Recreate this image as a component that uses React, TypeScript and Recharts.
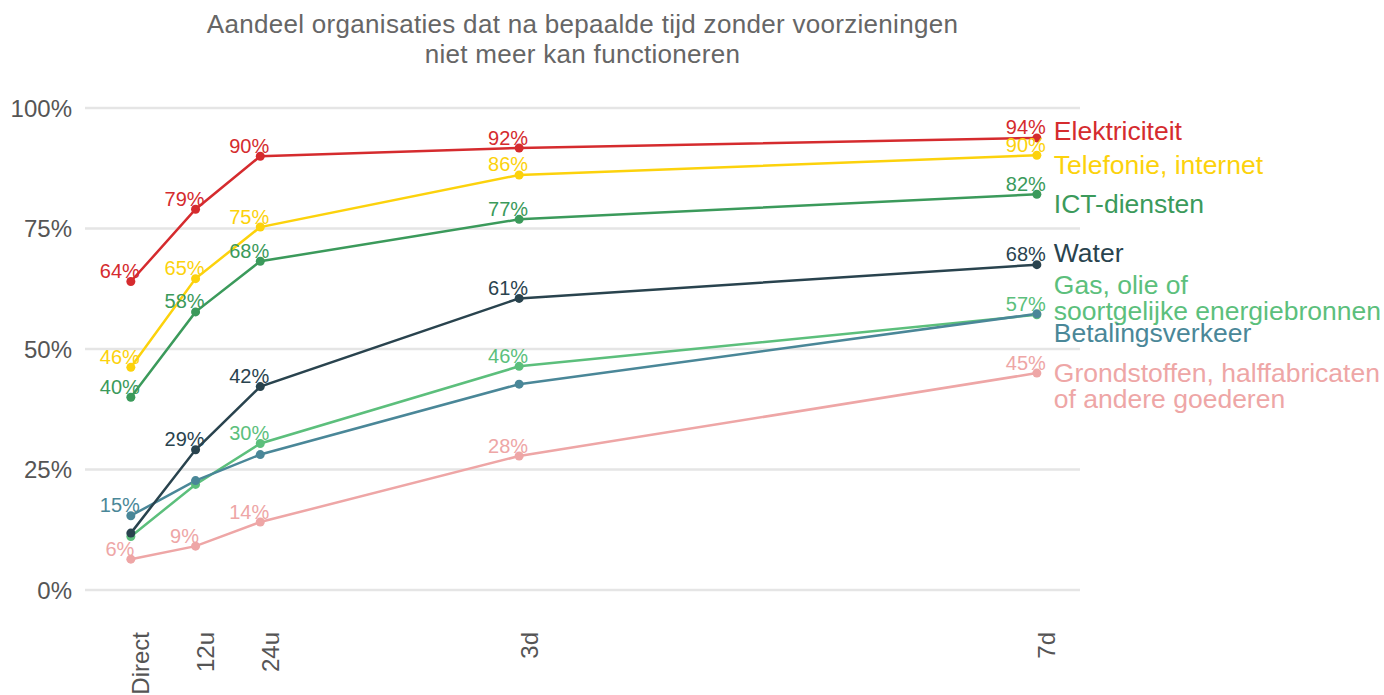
import { CartesianGrid, LabelList, Line, LineChart, XAxis, YAxis } from "recharts";

// hours after the outage; labels as used on the axis
const hours = [0, 12, 24, 72, 168];
const tickLabels = ["Direct", "12u", "24u", "3d", "7d"];
const yTicks = [0, 25, 50, 75, 100];

const elektriciteit = [64, 79, 90, 91.7, 93.8];
const telefonie = [46.2, 64.6, 75.3, 86.1, 90.2];
const ictDiensten = [40, 57.7, 68.2, 76.9, 82.1];
const water = [11.8, 29.1, 42.2, 60.5, 67.5];
const gas = [11.1, 21.9, 30.4, 46.4, 57.1];
const betaling = [15.4, 22.7, 28.1, 42.7, 57.3];
const grondstoffen = [6.4, 9.1, 14.1, 27.8, 45];

// which points carry a value label
const showElektriciteit = [true, true, true, true, true];
const showTelefonie = [true, true, true, true, true];
const showIct = [true, true, true, true, true];
const showWater = [false, true, true, true, true];
const showGas = [false, false, true, true, true];
const showBetaling = [true, false, false, false, false];
const showGrondstoffen = [true, true, true, true, true];

const series = [
  { key: "grondstoffen", name: ["Grondstoffen, halffabricaten", "of andere goederen"], values: grondstoffen, show: showGrondstoffen, color: "#eea6a6", nameDy: 13 },
  { key: "gas", name: ["Gas, olie of", "soortgelijke energiebronnen"], values: gas, show: showGas, color: "#5cbf7c", nameDy: -17 },
  { key: "betaling", name: ["Betalingsverkeer"], values: betaling, show: showBetaling, color: "#4a8798", nameDy: 19 },
  { key: "water", name: ["Water"], values: water, show: showWater, color: "#29434e", nameDy: -12 },
  { key: "ict", name: ["ICT-diensten"], values: ictDiensten, show: showIct, color: "#3b9a5b", nameDy: 10 },
  { key: "telefonie", name: ["Telefonie, internet"], values: telefonie, show: showTelefonie, color: "#fcd20c", nameDy: 10 },
  { key: "elektriciteit", name: ["Elektriciteit"], values: elektriciteit, show: showElektriciteit, color: "#d52b2e", nameDy: -7 },
];

const rows = hours.map((h, i) => {
  const row: Record<string, number> = { h };
  series.forEach((s) => (row[s.key] = s.values[i]));
  return row;
});

const font = "'Liberation Sans', Arial, sans-serif";

function XTick({ x, y, payload }: any) {
  const label = tickLabels[hours.indexOf(payload.value)];
  const tx = x + 10;
  const ty = y + 40;
  return (
    <text x={tx} y={ty} transform={`rotate(-90, ${tx}, ${ty})`} textAnchor="end" dominantBaseline="central" fill="#555" fontSize={24} fontFamily={font}>
      {label}
    </text>
  );
}

function makeLabel(s: (typeof series)[number]) {
  return (props: any) => {
    const { x, y, index, value } = props;
    const last = index === hours.length - 1;
    const lh = 26;
    const top = y + s.nameDy - ((s.name.length - 1) * lh) / 2;
    return (
      <g>
        {s.show[index] && (
          <text x={x - 11} y={y - 10.5} textAnchor="middle" dominantBaseline="central" fill={s.color} fontSize={20} fontFamily={font}>
            {Math.round(value)}%
          </text>
        )}
        {last &&
          s.name.map((line, i) => (
            <text key={i} x={x + 17} y={top + i * lh} dominantBaseline="central" fill={s.color} fontSize={26.5} fontFamily={font}>
              {line}
            </text>
          ))}
      </g>
    );
  };
}

export default function App() {
  return (
    <div style={{ position: "absolute", left: 0, top: 0, width: 1384, height: 695, background: "#fff" }}>
      <div style={{ position: "absolute", left: 85, width: 995, top: 9, textAlign: "center", color: "#666", fontFamily: font, fontSize: 26, letterSpacing: 0.3, lineHeight: "30px" }}>
        Aandeel organisaties dat na bepaalde tijd zonder voorzieningen
        <br />
        niet meer kan functioneren
      </div>
      <LineChart width={1384} height={695} data={rows} margin={{ top: 108, right: 304, bottom: 0, left: 0 }} style={{ fontFamily: font }}>
        <CartesianGrid vertical={false} stroke="#e5e5e5" strokeWidth={2.5} />
        <XAxis
          type="number"
          dataKey="h"
          domain={[-8.5, 176]}
          ticks={hours}
          interval={0}
          height={105}
          axisLine={false}
          tickLine={false}
          tickSize={0}
          tick={<XTick />}
        />
        <YAxis
          domain={[0, 100]}
          ticks={yTicks}
          width={85}
          axisLine={false}
          tickLine={false}
          tickSize={0}
          tickMargin={13}
          tickFormatter={(v) => `${v}%`}
          tick={{ fill: "#555", fontSize: 24 }}
        />
        {series.map((s) => (
          <Line
            key={s.key}
            type="linear"
            dataKey={s.key}
            stroke={s.color}
            strokeWidth={2.5}
            dot={{ r: 4.5, fill: s.color, stroke: s.color, strokeWidth: 0 }}
            activeDot={false}
            isAnimationActive={false}
          >
            <LabelList dataKey={s.key} content={makeLabel(s)} />
          </Line>
        ))}
      </LineChart>
    </div>
  );
}
